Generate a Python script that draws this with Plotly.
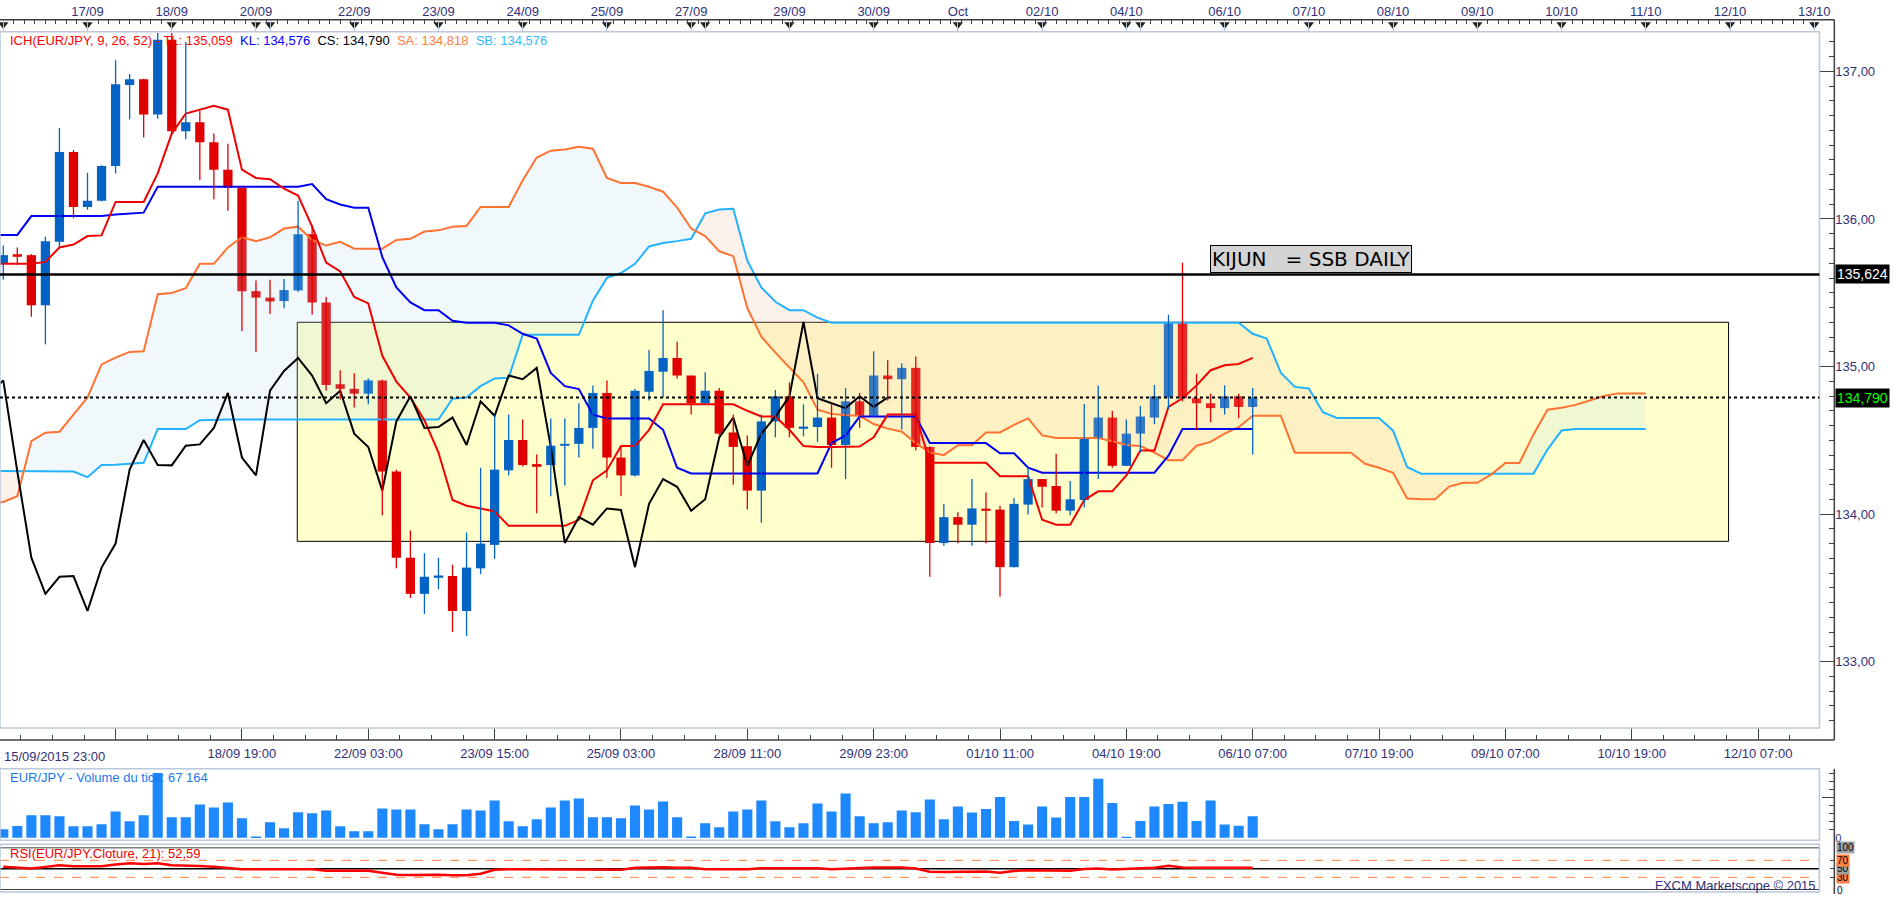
import plotly.graph_objects as go

W, H = 1903, 900

# EUR/JPY 4h candles, index 0 = 15/09/2015 23:00 ... index 89 = 06/10/2015 07:00
opens = [135.696, 135.757, 135.755, 135.415, 135.845, 136.455, 136.082, 136.123, 136.36, 136.908,
         136.947, 136.708, 137.215, 136.595, 136.656, 136.52, 136.334, 136.211, 135.511, 135.467,
         135.444, 135.516, 135.897, 135.434, 134.88, 134.849, 134.816, 134.906, 134.288, 133.704,
         133.459, 133.575, 133.58, 133.343, 133.632, 133.791, 134.296, 134.502, 134.335, 134.332,
         134.468, 134.476, 134.584, 134.821, 134.383, 134.262, 134.829, 134.965, 135.058, 134.939,
         134.751, 134.836, 134.553, 134.46, 134.159, 134.628, 134.798, 134.584, 134.59, 134.654,
         134.468, 134.764, 134.666, 134.939, 134.914, 134.991, 134.455, 133.804, 133.979, 133.928,
         134.033, 134.03, 133.64, 134.064, 134.237, 134.19, 134.023, 134.095, 134.512, 134.654,
         134.327, 134.545, 134.654, 134.79, 135.302, 134.785, 134.751, 134.718, 134.798, 134.726]
highs = [135.82, 135.807, 135.763, 135.879, 136.617, 136.468, 136.314, 136.365, 137.076, 136.983,
         136.95, 137.26, 137.26, 137.2, 136.733, 136.58, 136.51, 136.219, 135.583, 135.588,
         135.593, 136.123, 135.961, 135.472, 134.975, 134.955, 134.919, 134.911, 134.301, 133.889,
         133.735, 133.703, 133.657, 133.876, 134.314, 134.674, 134.674, 134.641, 134.404, 134.648,
         134.648, 134.751, 134.872, 134.906, 134.455, 134.847, 135.112, 135.382, 135.168, 134.939,
         134.962, 134.854, 134.674, 134.533, 134.674, 134.841, 134.893, 134.744, 134.95, 134.751,
         134.854, 134.821, 135.104, 135.042, 135.022, 135.068, 134.46, 134.069, 134.013, 134.237,
         134.146, 134.056, 134.108, 134.314, 134.237, 134.409, 134.224, 134.746, 134.872, 134.7,
         134.641, 134.733, 134.875, 135.351, 135.704, 134.95, 134.816, 134.872, 134.816, 134.854]
lows = [135.588, 135.69, 135.338, 135.15, 135.807, 136.005, 136.062, 136.118, 136.309, 136.674,
        136.553, 136.68, 136.57, 136.54, 136.265, 136.134, 136.056, 135.24, 135.099, 135.356,
        135.395, 135.506, 135.351, 134.836, 134.777, 134.723, 134.744, 133.992, 133.632, 133.431,
        133.323, 133.49, 133.2, 133.174, 133.593, 133.696, 134.262, 134.322, 134.005, 134.121,
        134.193, 134.383, 134.443, 134.244, 134.121, 134.255, 134.769, 134.79, 134.919, 134.674,
        134.744, 134.533, 134.198, 134.031, 133.941, 134.52, 134.52, 134.527, 134.489, 134.314,
        134.237, 134.584, 134.656, 134.769, 134.571, 134.43, 133.575, 133.786, 133.8, 133.786,
        133.8, 133.439, 133.638, 133.997, 134.044, 134.005, 133.992, 134.044, 134.237, 134.314,
        134.327, 134.417, 134.61, 134.713, 134.764, 134.571, 134.623, 134.674, 134.649, 134.404]
closes = [135.755, 135.752, 135.415, 135.85, 136.455, 136.082, 136.123, 136.36, 136.914, 136.947,
          136.708, 137.215, 136.595, 136.656, 136.52, 136.334, 136.211, 135.511, 135.467, 135.441,
          135.518, 135.897, 135.434, 134.875, 134.849, 134.816, 134.906, 134.288, 133.704, 133.459,
          133.575, 133.58, 133.343, 133.637, 133.8, 134.301, 134.502, 134.332, 134.33, 134.463,
          134.472, 134.584, 134.821, 134.383, 134.262, 134.836, 134.97, 135.058, 134.939, 134.751,
          134.836, 134.545, 134.455, 134.159, 134.628, 134.798, 134.584, 134.59, 134.654, 134.468,
          134.764, 134.666, 134.939, 134.914, 134.991, 134.455, 133.804, 133.979, 133.928, 134.038,
          134.028, 133.64, 134.069, 134.237, 134.185, 134.023, 134.1, 134.52, 134.654, 134.327,
          134.545, 134.661, 134.798, 135.302, 134.785, 134.751, 134.718, 134.798, 134.726, 134.79]

volumes = [26700, 36960, 69800, 69800, 66700, 35900, 35900, 42100, 82100, 51300,
           69800, 201200, 63700, 63700, 103700, 94500, 109900, 60600, 4600, 48300,
           29800, 79100, 76000, 85200, 35900, 20500, 20500, 91400, 88300, 88300,
           42100, 26700, 42100, 88300, 85200, 116000, 51300, 35900, 57500, 94500,
           116000, 122200, 63700, 63700, 60600, 100600, 88300, 112900, 63700, 4600,
           45200, 32900, 82100, 88300, 116000, 51300, 32900, 45200, 106800, 82100,
           137600, 66700, 45200, 48300, 85200, 79100, 119100, 57500, 97200, 78500,
           89700, 127100, 52300, 41100, 97200, 63500, 127100, 127100, 183200, 108400,
           3700, 52300, 97200, 104700, 112100, 52300, 115900, 41100, 37400, 67164]

rsi = [54.6, 53.1, 50.8, 54.6, 58.5, 56.2, 56.2, 56.2, 60.0, 63.1,
       61.6, 63.1, 58.5, 58.5, 56.9, 54.6, 52.3, 49.2, 49.2, 49.2,
       49.2, 49.2, 49.2, 45.4, 45.4, 45.4, 45.4, 40.8, 36.1, 35.4,
       36.1, 36.1, 34.6, 34.6, 38.5, 47.7, 49.2, 49.2, 49.2, 49.2,
       49.2, 49.2, 49.2, 47.7, 47.7, 52.3, 53.9, 53.9, 52.3, 52.3,
       49.2, 49.2, 48.5, 49.2, 51.5, 51.5, 51.5, 51.5, 51.5, 49.2,
       50.8, 50.8, 53.1, 53.1, 53.1, 50.8, 43.1, 42.3, 43.0, 43.8,
       43.8, 40.5, 45.0, 46.5, 46.0, 44.8, 45.5, 49.5, 50.8, 48.5,
       50.2, 51.3, 52.5, 57.5, 53.0, 52.7, 52.4, 53.3, 52.6, 52.59]

# ichimoku lines, first value is the bar before index 0
tenkan = [135.696, 135.696, 135.696, 135.696, 135.709, 135.807, 135.827, 135.884, 135.889, 136.116,
          136.116, 136.116, 136.309, 136.579, 136.715, 136.741, 136.767, 136.741, 136.334, 136.278,
          136.27, 136.206, 136.159, 135.948, 135.704, 135.645, 135.472, 135.428, 135.073, 134.898,
          134.79, 134.636, 134.417, 134.095, 134.056, 134.038, 134.018, 133.92, 133.92, 133.92,
          133.92, 133.92, 133.961, 134.229, 134.296, 134.461, 134.461, 134.571, 134.744, 134.744,
          134.744, 134.744, 134.744, 134.744, 134.7, 134.661, 134.661, 134.571, 134.461, 134.455,
          134.455, 134.455, 134.458, 134.52, 134.674, 134.674, 134.674, 134.347, 134.347, 134.347,
          134.347, 134.347, 134.257, 134.257, 134.257, 133.961, 133.928, 133.928, 134.095, 134.154,
          134.154, 134.262, 134.43, 134.43, 134.726, 134.785, 134.872, 134.975, 135.009, 135.017,
          135.059]
kijun = [135.892, 135.892, 135.892, 136.02, 136.02, 136.02, 136.02, 136.02, 136.02, 136.031,
         136.036, 136.043, 136.218, 136.218, 136.218, 136.218, 136.218, 136.218, 136.218, 136.218,
         136.218, 136.218, 136.218, 136.237, 136.134, 136.098, 136.077, 136.077, 135.742, 135.536,
         135.434, 135.382, 135.382, 135.31, 135.297, 135.297, 135.297, 135.279, 135.222, 135.189,
         134.957, 134.867, 134.847, 134.674, 134.648, 134.648, 134.648, 134.648, 134.571, 134.314,
         134.275, 134.275, 134.275, 134.275, 134.275, 134.275, 134.275, 134.275, 134.275, 134.275,
         134.481, 134.533, 134.661, 134.661, 134.661, 134.661, 134.661, 134.481, 134.481, 134.481,
         134.481, 134.481, 134.412, 134.412, 134.314, 134.28, 134.28, 134.28, 134.28, 134.28,
         134.28, 134.28, 134.28, 134.28, 134.396, 134.576, 134.576, 134.576, 134.576, 134.576,
         134.576]
ssa = [134.07, 134.082, 134.121, 134.494, 134.551, 134.558, 134.674, 134.79, 135.014, 135.06,
       135.099, 135.104, 135.49, 135.498, 135.531, 135.696, 135.696, 135.807, 135.876, 135.85,
       135.876, 135.935, 135.948, 135.858, 135.82, 135.845, 135.799, 135.799, 135.799, 135.858,
       135.866, 135.915, 135.923, 135.948, 135.953, 136.082, 136.082, 136.082, 136.262, 136.417,
       136.463, 136.471, 136.489, 136.476, 136.278, 136.244, 136.244, 136.219, 136.185, 136.077,
       135.935, 135.884, 135.781, 135.748, 135.395, 135.202, 135.094, 134.991, 134.893, 134.708,
       134.679, 134.669, 134.666, 134.61, 134.579, 134.558, 134.481, 134.417, 134.399, 134.466,
       134.466, 134.553, 134.553, 134.605, 134.648, 134.533, 134.515, 134.515, 134.515, 134.515,
       134.494, 134.468, 134.461, 134.417, 134.365, 134.365, 134.463, 134.489, 134.545, 134.589,
       134.666, 134.666, 134.666, 134.415, 134.415, 134.415, 134.415, 134.415, 134.341, 134.314,
       134.28, 134.105, 134.101, 134.101, 134.186, 134.212, 134.212, 134.269, 134.346, 134.346,
       134.54, 134.707, 134.72, 134.74, 134.77, 134.8, 134.818, 134.818, 134.818]
ssb = [134.293, 134.293, 134.293, 134.293, 134.293, 134.293, 134.288, 134.25, 134.332, 134.334,
       134.34, 134.347, 134.576, 134.576, 134.576, 134.636, 134.641, 134.641, 134.641, 134.641,
       134.641, 134.641, 134.641, 134.641, 134.641, 134.641, 134.641, 134.641, 134.641, 134.641,
       134.641, 134.641, 134.641, 134.782, 134.79, 134.867, 134.919, 134.924, 135.215, 135.215,
       135.215, 135.215, 135.215, 135.446, 135.601, 135.634, 135.696, 135.814, 135.837, 135.85,
       135.866, 136.038, 136.064, 136.069, 135.717, 135.536, 135.439, 135.382, 135.382, 135.331,
       135.297, 135.297, 135.297, 135.297, 135.297, 135.297, 135.297, 135.297, 135.297, 135.297,
       135.297, 135.297, 135.297, 135.297, 135.297, 135.297, 135.297, 135.297, 135.297, 135.297,
       135.297, 135.297, 135.297, 135.297, 135.297, 135.297, 135.297, 135.297, 135.297, 135.297,
       135.222, 135.19, 134.958, 134.862, 134.851, 134.69, 134.651, 134.651, 134.651, 134.651,
       134.565, 134.319, 134.274, 134.274, 134.274, 134.274, 134.274, 134.274, 134.274, 134.274,
       134.274, 134.437, 134.566, 134.576, 134.576, 134.576, 134.576, 134.576, 134.576]
CHIKOU_SHIFT = 26

daily_level = 135.624
zone_start, zone_end = 20.94, 122.9
zone_low, zone_high = 133.815, 135.30

day_ticks = [0, 6, 12, 18, 19, 25, 31, 37, 43, 49, 50, 56, 62, 68, 74, 80, 81, 87,
             93, 99, 105, 111, 117, 123, 129]
day_labels = ["", "17/09", "18/09", "20/09", "", "22/09", "23/09", "24/09", "25/09", "27/09", "",
              "29/09", "30/09", "Oct", "02/10", "04/10", "", "06/10", "07/10", "08/10", "09/10",
              "10/10", "11/10", "12/10", "13/10"]
time_ticks = [8, 17, 26, 35, 44, 53, 62, 71, 80, 89, 98, 107, 116, 125]
time_labels = ["", "18/09 19:00", "22/09 03:00", "23/09 15:00", "25/09 03:00", "28/09 11:00",
               "29/09 23:00", "01/10 11:00", "04/10 19:00", "06/10 07:00", "07/10 19:00",
               "09/10 07:00", "10/10 19:00", "12/10 07:00"]
first_time_label = "15/09/2015 23:00"
price_ticks = [133, 134, 135, 136, 137]

FONT = "Liberation Sans, Arial, sans-serif"
AXIS_TXT = "#31317a"
BLUE_C, RED_C = "#0563c4", "#e00000"


def px(x):
    return x / W


def py(y):
    return 1 - y / H


def fmt(v, d=3):
    return f"{v:.{d}f}".replace(".", ",")


PLOT_R, AXIS_X = 1830, 1845
MAIN_TOP, MAIN_BOT = 32, 733
TOP_AX, BOT_AX = 20, 745
VOL_TOP, VOL_BOT = 775, 843.5
RSI_TOP, RSI_BOT = 853.3, 896
XMIN, XMAX = -0.234, 129.37
PMIN, PMAX = 132.549, 137.269
VOL_MAX = (VOL_BOT - VOL_TOP) * 3080

n = len(closes)
idx = list(range(n))
line_idx = list(range(-1, n))
cloud_idx = list(range(-1, len(ssa) - 1))
chikou = closes[CHIKOU_SHIFT - 1:]
chikou_idx = list(range(-1, len(chikou) - 1))

fig = go.Figure()

# kumo fill, split where the spans cross
polys = []
cx, ca, cb = [], [], []
sign = None
for k in range(len(ssa)):
    s = ssa[k] >= ssb[k]
    if sign is None:
        sign = s
    if s != sign:
        d0 = ssa[k - 1] - ssb[k - 1]
        d1 = ssa[k] - ssb[k]
        t = d0 / (d0 - d1)
        xc = cloud_idx[k - 1] + t
        yc = ssa[k - 1] + t * (ssa[k] - ssa[k - 1])
        cx.append(xc); ca.append(yc); cb.append(yc)
        polys.append((sign, cx, ca, cb))
        cx, ca, cb = [xc], [yc], [yc]
        sign = s
    cx.append(cloud_idx[k]); ca.append(ssa[k]); cb.append(ssb[k])
polys.append((sign, cx, ca, cb))

for up, xs, a, b in polys:
    fig.add_trace(go.Scatter(
        x=xs + xs[::-1], y=a + b[::-1], fill="toself", mode="lines", line=dict(width=0),
        fillcolor="rgba(173,216,240,0.19)" if up else "rgba(248,190,170,0.22)",
        hoverinfo="skip"))

line_specs = [
    (cloud_idx, ssb, "#22b2ff"),
    (cloud_idx, ssa, "#ff7232"),
    (line_idx, kijun, "#0000f0"),
    (line_idx, tenkan, "#f00000"),
    (chikou_idx, chikou, "#000000"),
]
for xs, ys, col in line_specs:
    fig.add_trace(go.Scatter(x=xs, y=ys, mode="lines", line=dict(color=col, width=2),
                             hoverinfo="skip"))

# candles
bull = [c >= o for o, c in zip(opens, closes)]
for want, col in [(True, BLUE_C), (False, RED_C)]:
    wx, wy = [], []
    for i in idx:
        if bull[i] == want:
            wx += [i, i, None]
            wy += [lows[i], highs[i], None]
    fig.add_trace(go.Scatter(x=wx, y=wy, mode="lines", line=dict(color=col, width=1.3),
                             hoverinfo="skip"))

MIN_BODY = 0.012
body_h = [max(abs(c - o), MIN_BODY) for o, c in zip(opens, closes)]
body_base = [(o + c) / 2 - h / 2 for o, c, h in zip(opens, closes, body_h)]
fig.add_trace(go.Bar(x=idx, y=body_h, base=body_base, width=0.66,
                     marker=dict(color=[BLUE_C if b else RED_C for b in bull], line=dict(width=0)),
                     hoverinfo="skip"))

# top date axis markers
fig.add_trace(go.Scatter(x=day_ticks, y=[0.62] * len(day_ticks), xaxis="x2", yaxis="y4",
                         mode="markers", cliponaxis=False, hoverinfo="skip",
                         marker=dict(symbol="triangle-down", size=9, color="#202020")))
fig.add_trace(go.Scatter(x=[XMIN, XMAX], y=[0.5, 0.5], xaxis="x3", yaxis="y6", mode="markers",
                         marker=dict(opacity=0), hoverinfo="skip"))

# volume
fig.add_trace(go.Bar(x=idx, y=volumes, width=0.72, xaxis="x4", yaxis="y3",
                     marker=dict(color="#1e88ff", line=dict(width=0)), hoverinfo="skip"))
# rsi
fig.add_trace(go.Scatter(x=idx, y=rsi, xaxis="x5", yaxis="y5", mode="lines",
                         line=dict(color="#ff0000", width=2.5), hoverinfo="skip"))

tfont = dict(family=FONT, size=13, color=AXIS_TXT)
common_x = dict(domain=[0, px(PLOT_R)], range=[XMIN, XMAX], showgrid=False, zeroline=False,
                fixedrange=True)
right_y = dict(anchor="free", position=px(AXIS_X), side="right", showgrid=False,
               zeroline=False, ticks="inside", tickcolor="#404040", tickfont=tfont)

fig.update_layout(
    width=W, height=H, margin=dict(l=0, r=0, t=0, b=0),
    paper_bgcolor="white", plot_bgcolor="rgba(0,0,0,0)", showlegend=False,
    barmode="overlay", font=dict(family=FONT),
    xaxis=dict(**common_x, anchor="y", visible=False),
    yaxis=dict(**right_y, domain=[py(MAIN_BOT), py(MAIN_TOP)], range=[PMIN, PMAX],
               tickvals=price_ticks, ticktext=[fmt(v, 2) for v in price_ticks], ticklen=14,
               minor=dict(ticks="inside", ticklen=5, dtick=0.1, tick0=133, tickcolor="#404040")),
    xaxis2=dict(**common_x, anchor="y4", side="top", ticks="inside", ticklen=12,
                tickcolor="#b8c8d8", tickvals=day_ticks, ticktext=day_labels, tickfont=tfont,
                minor=dict(ticks="inside", ticklen=4, dtick=0.75, tick0=0, tickcolor="#404040")),
    yaxis4=dict(domain=[py(MAIN_TOP), py(TOP_AX)], range=[0, 1], visible=False, fixedrange=True),
    xaxis3=dict(**common_x, anchor="y6", side="bottom", ticks="inside", ticklen=12,
                tickcolor="#404040", tickvals=time_ticks, ticktext=time_labels, tickfont=tfont,
                ticklabelstandoff=4,
                minor=dict(ticks="inside", ticklen=5, dtick=2.25, tick0=-1, tickcolor="#404040")),
    yaxis6=dict(domain=[py(BOT_AX), py(MAIN_BOT)], range=[0, 1], visible=False, fixedrange=True),
    xaxis4=dict(**common_x, anchor="y3", visible=False),
    yaxis3=dict(**right_y, domain=[py(VOL_BOT), py(VOL_TOP)], range=[0, VOL_MAX],
                tickvals=[0, 125000], ticktext=["0", ""], ticklen=12,
                minor=dict(ticks="inside", ticklen=5, dtick=25000, tickcolor="#404040")),
    xaxis5=dict(**common_x, anchor="y5", visible=False),
    yaxis5=dict(**right_y, domain=[py(RSI_BOT), py(RSI_TOP)], range=[0, 100],
                tickvals=[0, 30, 50, 70, 100], ticklen=4, showticklabels=False),
)
fig.update_layout(yaxis3_tickfont_size=11)

shapes = []
FRAME = "#b9c8da"
for top, bot in [(MAIN_TOP, MAIN_BOT), (774, 846), (850, 898)]:
    shapes.append(dict(type="rect", xref="paper", yref="paper", x0=0, x1=px(PLOT_R),
                       y0=py(bot), y1=py(top), line=dict(color=FRAME, width=1.5), layer="above"))
for x0, y0, x1, y1 in [(0, TOP_AX, AXIS_X, TOP_AX), (AXIS_X, TOP_AX, AXIS_X, BOT_AX),
                       (0, BOT_AX, AXIS_X, BOT_AX), (AXIS_X, 774, AXIS_X, 900)]:
    shapes.append(dict(type="line", xref="paper", yref="paper", x0=px(x0), x1=px(x1),
                       y0=py(y0), y1=py(y1), line=dict(color="#404040", width=1.5)))
shapes.append(dict(type="rect", xref="x", yref="y", x0=zone_start, x1=zone_end, y0=zone_low,
                   y1=zone_high, fillcolor="#ffffcc", line=dict(color="black", width=1),
                   layer="below"))
shapes.append(dict(type="line", xref="paper", yref="y", x0=0, x1=px(PLOT_R), y0=daily_level,
                   y1=daily_level, line=dict(color="black", width=2.5)))
shapes.append(dict(type="line", xref="paper", yref="y", x0=0, x1=px(PLOT_R), y0=closes[-1],
                   y1=closes[-1], line=dict(color="black", width=2, dash="dot")))
for lvl, col, dash, wd in [(100, "black", "solid", 1.5), (70, "#ff8040", "dash", 1),
                           (50, "black", "solid", 1.5), (30, "#ff8040", "dash", 1),
                           (0, "black", "solid", 1.5)]:
    shapes.append(dict(type="line", xref="paper", yref="y5", x0=0, x1=px(PLOT_R), y0=lvl, y1=lvl,
                       line=dict(color=col, width=wd, dash=dash), layer="below"))
fig.update_layout(shapes=shapes)

sp = "&nbsp;&nbsp;"
legend = (f'<span style="color:#ff0000">ICH(EUR/JPY, 9, 26, 52) - TL: {fmt(tenkan[-1])}</span>{sp}'
          f'<span style="color:#0000ff">KL: {fmt(kijun[-1])}</span>{sp}'
          f'<span style="color:#000000">CS: {fmt(closes[-1])}</span>{sp}'
          f'<span style="color:#ff7f3f">SA: {fmt(ssa[-1])}</span>{sp}'
          f'<span style="color:#33bbff">SB: {fmt(ssb[-1])}</span>')
vol_txt = f"{volumes[-1]:,}".replace(",", " ")

ann = [
    dict(text=legend, x=px(8), y=py(41), font=dict(size=13)),
    dict(text=f"EUR/JPY - Volume du tick: {vol_txt}", x=px(8), y=py(783),
         font=dict(size=13, color="#1a78f0")),
    dict(text=f"RSI(EUR/JPY.Cloture, 21): {fmt(rsi[-1], 2)}", x=px(8), y=py(859),
         font=dict(size=13, color="#ee0000")),
    dict(text=first_time_label, x=px(2), y=py(762), font=tfont),
    dict(text="FXCM Marketscope © 2015", x=px(1829), y=py(891), xanchor="right", font=tfont),
]
for a in ann:
    a.setdefault("xanchor", "left")
    a.update(xref="paper", yref="paper", yanchor="middle", showarrow=False)
    a["font"].setdefault("family", FONT)

ann.append(dict(text="KIJUN\u00a0\u00a0\u00a0= SSB DAILY", x=(1217 - 3.3) / 14.12, y=daily_level,
                xref="x", yref="y", xanchor="left", yanchor="bottom", showarrow=False,
                bgcolor="#d4d4d4", bordercolor="black", borderwidth=1, borderpad=1, yshift=1,
                font=dict(family="DejaVu Sans, sans-serif", size=20, color="black")))
for val, fg in [(daily_level, "white"), (closes[-1], "#00ff00")]:
    ann.append(dict(text=fmt(val), x=px(AXIS_X + 1), y=val, xref="paper", yref="y",
                    xanchor="left", yanchor="middle", showarrow=False, bgcolor="black",
                    borderpad=1, font=dict(family=FONT, size=14, color=fg)))
for lvl, bg in [(0, None), (30, "#ff8040"), (50, "#a0a0a0"), (70, "#ff8040"), (100, "#a0a0a0")]:
    a = dict(text=str(lvl), x=px(AXIS_X + 2), y=lvl, xref="paper", yref="y5", xanchor="left",
             yanchor="middle", showarrow=False, borderpad=0,
             font=dict(family=FONT, size=10, color="black"))
    if bg:
        a["bgcolor"] = bg
    ann.append(a)
fig.update_layout(annotations=ann)

pin = ("document.body.style.margin='0';"
       "var g=document.getElementById('{plot_id}');"
       "g.style.position='fixed';g.style.left='0px';g.style.top='0px';")
fig.write_html("out.html", config={"displayModeBar": False}, post_script=pin)
